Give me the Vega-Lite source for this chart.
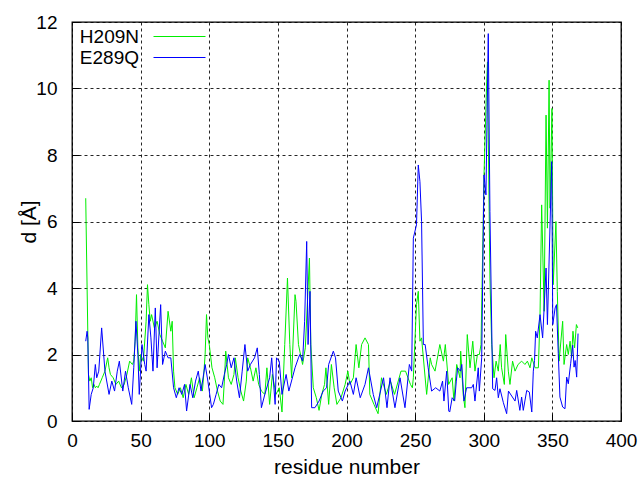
{
  "$schema": "https://vega.github.io/schema/vega-lite/v6.json",
  "width": 549,
  "height": 399,
  "autosize": "none",
  "padding": {"left": 72, "top": 22, "right": 19, "bottom": 57},
  "background": "white",
  "config": {
    "font": "Liberation Sans",
    "view": {"stroke": "black", "strokeWidth": 1.3},
    "axis": {
      "domain": false,
      "grid": true,
      "gridColor": "black",
      "gridDash": [3, 3],
      "gridOpacity": 0.85,
      "gridWidth": 1,
      "ticks": true,
      "tickSize": -7,
      "tickColor": "black",
      "labelFlush": false,
      "labelColor": "black",
      "labelFont": "Liberation Sans",
      "labelFontSize": 19,
      "titleColor": "black",
      "titleFont": "Liberation Sans",
      "titleFontSize": 21,
      "titleFontWeight": "normal"
    },
    "legend": {
      "orient": "none",
      "legendX": 72,
      "legendY": 5,
      "symbolType": "M0,0H8",
      "symbolSize": 169,
      "symbolStrokeWidth": 1,
      "labelFont": "Liberation Sans",
      "labelFontSize": 19,
      "labelColor": "black",
      "labelAlign": "right",
      "labelOffset": -24,
      "symbolOffset": 0,
      "rowPadding": 1,
      "title": null
    }
  },
  "data": {
    "values": [
      {"r": 10, "d": 6.7, "s": "H209N"}, {"r": 11, "d": 4.0, "s": "H209N"}, {"r": 12, "d": 1.4, "s": "H209N"}, {"r": 13, "d": 1.2, "s": "H209N"}, {"r": 14, "d": 1.3, "s": "H209N"}, {"r": 15, "d": 1.0, "s": "H209N"}, {"r": 16, "d": 1.1, "s": "H209N"}, {"r": 17, "d": 1.0, "s": "H209N"}, {"r": 18, "d": 1.05, "s": "H209N"}, {"r": 19, "d": 1.0, "s": "H209N"}, {"r": 20, "d": 1.1, "s": "H209N"}, {"r": 22, "d": 1.3, "s": "H209N"}, {"r": 24, "d": 1.5, "s": "H209N"}, {"r": 26, "d": 1.9, "s": "H209N"}, {"r": 27, "d": 1.6, "s": "H209N"}, {"r": 28, "d": 1.4, "s": "H209N"}, {"r": 30, "d": 1.3, "s": "H209N"}, {"r": 32, "d": 1.1, "s": "H209N"}, {"r": 34, "d": 1.2, "s": "H209N"}, {"r": 36, "d": 1.0, "s": "H209N"}, {"r": 38, "d": 1.1, "s": "H209N"}, {"r": 40, "d": 1.4, "s": "H209N"}, {"r": 42, "d": 1.8, "s": "H209N"}, {"r": 44, "d": 1.7, "s": "H209N"}, {"r": 45, "d": 1.8, "s": "H209N"}, {"r": 46, "d": 2.4, "s": "H209N"}, {"r": 47, "d": 3.8, "s": "H209N"}, {"r": 48, "d": 2.2, "s": "H209N"}, {"r": 49, "d": 1.5, "s": "H209N"}, {"r": 50, "d": 2.0, "s": "H209N"}, {"r": 52, "d": 1.8, "s": "H209N"}, {"r": 54, "d": 3.0, "s": "H209N"}, {"r": 55, "d": 4.1, "s": "H209N"}, {"r": 56, "d": 3.5, "s": "H209N"}, {"r": 57, "d": 3.0, "s": "H209N"}, {"r": 58, "d": 3.2, "s": "H209N"}, {"r": 60, "d": 2.8, "s": "H209N"}, {"r": 62, "d": 3.0, "s": "H209N"}, {"r": 64, "d": 2.6, "s": "H209N"}, {"r": 66, "d": 2.4, "s": "H209N"}, {"r": 68, "d": 2.2, "s": "H209N"}, {"r": 70, "d": 3.3, "s": "H209N"}, {"r": 72, "d": 2.7, "s": "H209N"}, {"r": 73, "d": 3.0, "s": "H209N"}, {"r": 74, "d": 1.5, "s": "H209N"}, {"r": 75, "d": 1.0, "s": "H209N"}, {"r": 77, "d": 0.8, "s": "H209N"}, {"r": 79, "d": 1.0, "s": "H209N"}, {"r": 81, "d": 0.7, "s": "H209N"}, {"r": 83, "d": 1.1, "s": "H209N"}, {"r": 85, "d": 0.8, "s": "H209N"}, {"r": 87, "d": 1.3, "s": "H209N"}, {"r": 89, "d": 0.7, "s": "H209N"}, {"r": 91, "d": 1.0, "s": "H209N"}, {"r": 93, "d": 1.3, "s": "H209N"}, {"r": 95, "d": 0.9, "s": "H209N"}, {"r": 96, "d": 1.4, "s": "H209N"}, {"r": 97, "d": 2.0, "s": "H209N"}, {"r": 98, "d": 3.2, "s": "H209N"}, {"r": 99, "d": 2.5, "s": "H209N"}, {"r": 100, "d": 2.3, "s": "H209N"}, {"r": 102, "d": 1.6, "s": "H209N"}, {"r": 104, "d": 1.3, "s": "H209N"}, {"r": 106, "d": 0.9, "s": "H209N"}, {"r": 108, "d": 0.6, "s": "H209N"}, {"r": 110, "d": 0.5, "s": "H209N"}, {"r": 111, "d": 1.2, "s": "H209N"}, {"r": 112, "d": 2.1, "s": "H209N"}, {"r": 114, "d": 1.3, "s": "H209N"}, {"r": 116, "d": 1.1, "s": "H209N"}, {"r": 118, "d": 1.4, "s": "H209N"}, {"r": 119, "d": 1.9, "s": "H209N"}, {"r": 121, "d": 1.3, "s": "H209N"}, {"r": 123, "d": 0.9, "s": "H209N"}, {"r": 125, "d": 0.6, "s": "H209N"}, {"r": 127, "d": 1.2, "s": "H209N"}, {"r": 128, "d": 1.9, "s": "H209N"}, {"r": 130, "d": 1.6, "s": "H209N"}, {"r": 132, "d": 1.2, "s": "H209N"}, {"r": 134, "d": 1.6, "s": "H209N"}, {"r": 136, "d": 1.1, "s": "H209N"}, {"r": 138, "d": 0.9, "s": "H209N"}, {"r": 140.5, "d": 0.8, "s": "H209N"}, {"r": 142, "d": 1.6, "s": "H209N"}, {"r": 144, "d": 0.5, "s": "H209N"}, {"r": 146, "d": 1.4, "s": "H209N"}, {"r": 148.6, "d": 0.8, "s": "H209N"}, {"r": 151, "d": 1.0, "s": "H209N"}, {"r": 153, "d": 0.27, "s": "H209N"}, {"r": 155, "d": 2.3, "s": "H209N"}, {"r": 157, "d": 4.3, "s": "H209N"}, {"r": 158.7, "d": 2.3, "s": "H209N"}, {"r": 160, "d": 1.3, "s": "H209N"}, {"r": 162.5, "d": 3.8, "s": "H209N"}, {"r": 163.2, "d": 3.6, "s": "H209N"}, {"r": 165, "d": 2.3, "s": "H209N"}, {"r": 168, "d": 1.7, "s": "H209N"}, {"r": 170, "d": 2.2, "s": "H209N"}, {"r": 173, "d": 4.9, "s": "H209N"}, {"r": 174, "d": 2.3, "s": "H209N"}, {"r": 175.8, "d": 1.0, "s": "H209N"}, {"r": 178, "d": 0.7, "s": "H209N"}, {"r": 180, "d": 0.32, "s": "H209N"}, {"r": 182, "d": 0.8, "s": "H209N"}, {"r": 184, "d": 1.1, "s": "H209N"}, {"r": 185, "d": 1.6, "s": "H209N"}, {"r": 187, "d": 0.5, "s": "H209N"}, {"r": 189, "d": 1.7, "s": "H209N"}, {"r": 191, "d": 1.0, "s": "H209N"}, {"r": 193, "d": 0.5, "s": "H209N"}, {"r": 196, "d": 0.7, "s": "H209N"}, {"r": 199, "d": 1.1, "s": "H209N"}, {"r": 201, "d": 1.5, "s": "H209N"}, {"r": 202.5, "d": 1.1, "s": "H209N"}, {"r": 205, "d": 1.3, "s": "H209N"}, {"r": 207, "d": 2.3, "s": "H209N"}, {"r": 209, "d": 1.6, "s": "H209N"}, {"r": 211, "d": 2.3, "s": "H209N"}, {"r": 213.5, "d": 2.5, "s": "H209N"}, {"r": 216, "d": 2.3, "s": "H209N"}, {"r": 217, "d": 0.8, "s": "H209N"}, {"r": 220, "d": 0.5, "s": "H209N"}, {"r": 223, "d": 0.22, "s": "H209N"}, {"r": 225.5, "d": 1.3, "s": "H209N"}, {"r": 229, "d": 0.8, "s": "H209N"}, {"r": 232, "d": 1.2, "s": "H209N"}, {"r": 235, "d": 0.8, "s": "H209N"}, {"r": 239.7, "d": 1.5, "s": "H209N"}, {"r": 243, "d": 1.5, "s": "H209N"}, {"r": 246.6, "d": 1.1, "s": "H209N"}, {"r": 248, "d": 1.0, "s": "H209N"}, {"r": 248.7, "d": 1.3, "s": "H209N"}, {"r": 251, "d": 3.5, "s": "H209N"}, {"r": 252.3, "d": 3.9, "s": "H209N"}, {"r": 253.5, "d": 2.4, "s": "H209N"}, {"r": 254.7, "d": 2.5, "s": "H209N"}, {"r": 258.4, "d": 0.8, "s": "H209N"}, {"r": 261, "d": 1.9, "s": "H209N"}, {"r": 262, "d": 1.7, "s": "H209N"}, {"r": 264.5, "d": 1.5, "s": "H209N"}, {"r": 268, "d": 2.3, "s": "H209N"}, {"r": 270.6, "d": 1.8, "s": "H209N"}, {"r": 272, "d": 2.3, "s": "H209N"}, {"r": 274.4, "d": 1.1, "s": "H209N"}, {"r": 277, "d": 1.3, "s": "H209N"}, {"r": 278.3, "d": 0.6, "s": "H209N"}, {"r": 280.3, "d": 1.7, "s": "H209N"}, {"r": 282.7, "d": 1.3, "s": "H209N"}, {"r": 283.2, "d": 2.1, "s": "H209N"}, {"r": 285, "d": 0.8, "s": "H209N"}, {"r": 286.3, "d": 0.4, "s": "H209N"}, {"r": 288, "d": 2.6, "s": "H209N"}, {"r": 290, "d": 1.6, "s": "H209N"}, {"r": 292, "d": 2.4, "s": "H209N"}, {"r": 293.6, "d": 1.5, "s": "H209N"}, {"r": 295.4, "d": 2.0, "s": "H209N"}, {"r": 296.8, "d": 2.0, "s": "H209N"}, {"r": 298, "d": 2.3, "s": "H209N"}, {"r": 300.2, "d": 7.4, "s": "H209N"}, {"r": 302, "d": 10.0, "s": "H209N"}, {"r": 302.7, "d": 10.8, "s": "H209N"}, {"r": 304.5, "d": 4.3, "s": "H209N"}, {"r": 305.8, "d": 2.3, "s": "H209N"}, {"r": 307.5, "d": 1.3, "s": "H209N"}, {"r": 309, "d": 1.8, "s": "H209N"}, {"r": 310.6, "d": 1.5, "s": "H209N"}, {"r": 312, "d": 2.3, "s": "H209N"}, {"r": 313, "d": 1.6, "s": "H209N"}, {"r": 315, "d": 1.1, "s": "H209N"}, {"r": 316, "d": 2.6, "s": "H209N"}, {"r": 317.9, "d": 1.5, "s": "H209N"}, {"r": 319.1, "d": 1.1, "s": "H209N"}, {"r": 321, "d": 1.8, "s": "H209N"}, {"r": 322.8, "d": 1.5, "s": "H209N"}, {"r": 325, "d": 1.7, "s": "H209N"}, {"r": 327.6, "d": 1.8, "s": "H209N"}, {"r": 330, "d": 1.7, "s": "H209N"}, {"r": 331.8, "d": 1.8, "s": "H209N"}, {"r": 333.7, "d": 1.6, "s": "H209N"}, {"r": 335, "d": 1.9, "s": "H209N"}, {"r": 337.4, "d": 1.6, "s": "H209N"}, {"r": 339.8, "d": 1.6, "s": "H209N"}, {"r": 341, "d": 3.2, "s": "H209N"}, {"r": 342.2, "d": 6.5, "s": "H209N"}, {"r": 344, "d": 3.3, "s": "H209N"}, {"r": 345.4, "d": 9.2, "s": "H209N"}, {"r": 346.4, "d": 5.8, "s": "H209N"}, {"r": 347.6, "d": 10.25, "s": "H209N"}, {"r": 348.3, "d": 6.4, "s": "H209N"}, {"r": 349.7, "d": 9.4, "s": "H209N"}, {"r": 350.6, "d": 4.1, "s": "H209N"}, {"r": 352.6, "d": 6.0, "s": "H209N"}, {"r": 353.6, "d": 3.9, "s": "H209N"}, {"r": 354.9, "d": 1.8, "s": "H209N"}, {"r": 357.5, "d": 3.0, "s": "H209N"}, {"r": 358.5, "d": 1.7, "s": "H209N"}, {"r": 360.4, "d": 2.3, "s": "H209N"}, {"r": 361.6, "d": 2.0, "s": "H209N"}, {"r": 362.9, "d": 2.4, "s": "H209N"}, {"r": 364, "d": 1.9, "s": "H209N"}, {"r": 365, "d": 2.7, "s": "H209N"}, {"r": 366.2, "d": 2.2, "s": "H209N"}, {"r": 367.5, "d": 2.9, "s": "H209N"}, {"r": 368.5, "d": 2.8, "s": "H209N"},
      {"r": 10, "d": 2.4, "s": "E289Q"}, {"r": 11, "d": 2.7, "s": "E289Q"}, {"r": 11.5, "d": 2.5, "s": "E289Q"}, {"r": 12.5, "d": 0.35, "s": "E289Q"}, {"r": 14, "d": 0.8, "s": "E289Q"}, {"r": 15.5, "d": 1.0, "s": "E289Q"}, {"r": 17, "d": 1.7, "s": "E289Q"}, {"r": 18, "d": 1.3, "s": "E289Q"}, {"r": 19.5, "d": 1.5, "s": "E289Q"}, {"r": 21.6, "d": 2.8, "s": "E289Q"}, {"r": 24, "d": 1.5, "s": "E289Q"}, {"r": 27, "d": 0.8, "s": "E289Q"}, {"r": 29, "d": 1.2, "s": "E289Q"}, {"r": 31, "d": 0.9, "s": "E289Q"}, {"r": 33, "d": 1.5, "s": "E289Q"}, {"r": 34.5, "d": 1.8, "s": "E289Q"}, {"r": 37, "d": 0.9, "s": "E289Q"}, {"r": 39, "d": 1.5, "s": "E289Q"}, {"r": 41, "d": 1.0, "s": "E289Q"}, {"r": 43.5, "d": 0.5, "s": "E289Q"}, {"r": 45, "d": 1.6, "s": "E289Q"}, {"r": 46.6, "d": 3.0, "s": "E289Q"}, {"r": 48, "d": 2.0, "s": "E289Q"}, {"r": 49, "d": 0.8, "s": "E289Q"}, {"r": 51, "d": 2.3, "s": "E289Q"}, {"r": 53, "d": 1.7, "s": "E289Q"}, {"r": 54, "d": 1.5, "s": "E289Q"}, {"r": 56, "d": 3.2, "s": "E289Q"}, {"r": 57.5, "d": 2.5, "s": "E289Q"}, {"r": 59, "d": 1.5, "s": "E289Q"}, {"r": 60.7, "d": 3.4, "s": "E289Q"}, {"r": 62, "d": 1.6, "s": "E289Q"}, {"r": 64.6, "d": 3.5, "s": "E289Q"}, {"r": 66, "d": 1.7, "s": "E289Q"}, {"r": 68, "d": 2.1, "s": "E289Q"}, {"r": 70, "d": 1.9, "s": "E289Q"}, {"r": 72, "d": 1.9, "s": "E289Q"}, {"r": 74, "d": 1.0, "s": "E289Q"}, {"r": 76, "d": 0.7, "s": "E289Q"}, {"r": 78, "d": 1.0, "s": "E289Q"}, {"r": 80, "d": 0.8, "s": "E289Q"}, {"r": 82, "d": 1.1, "s": "E289Q"}, {"r": 83.5, "d": 0.3, "s": "E289Q"}, {"r": 86, "d": 1.1, "s": "E289Q"}, {"r": 88, "d": 0.7, "s": "E289Q"}, {"r": 90, "d": 1.2, "s": "E289Q"}, {"r": 92, "d": 1.5, "s": "E289Q"}, {"r": 94, "d": 0.9, "s": "E289Q"}, {"r": 97, "d": 1.7, "s": "E289Q"}, {"r": 99, "d": 1.2, "s": "E289Q"}, {"r": 101.7, "d": 0.4, "s": "E289Q"}, {"r": 103, "d": 0.5, "s": "E289Q"}, {"r": 105, "d": 0.8, "s": "E289Q"}, {"r": 107, "d": 1.1, "s": "E289Q"}, {"r": 109, "d": 1.0, "s": "E289Q"}, {"r": 111, "d": 1.4, "s": "E289Q"}, {"r": 112.7, "d": 1.7, "s": "E289Q"}, {"r": 114, "d": 2.0, "s": "E289Q"}, {"r": 116, "d": 1.6, "s": "E289Q"}, {"r": 118, "d": 1.9, "s": "E289Q"}, {"r": 120, "d": 1.2, "s": "E289Q"}, {"r": 122, "d": 0.7, "s": "E289Q"}, {"r": 124, "d": 1.5, "s": "E289Q"}, {"r": 126, "d": 2.3, "s": "E289Q"}, {"r": 128, "d": 1.5, "s": "E289Q"}, {"r": 130, "d": 1.7, "s": "E289Q"}, {"r": 133, "d": 1.9, "s": "E289Q"}, {"r": 135, "d": 2.2, "s": "E289Q"}, {"r": 136.5, "d": 1.4, "s": "E289Q"}, {"r": 138, "d": 0.4, "s": "E289Q"}, {"r": 140.5, "d": 0.8, "s": "E289Q"}, {"r": 144, "d": 1.3, "s": "E289Q"}, {"r": 145.5, "d": 1.9, "s": "E289Q"}, {"r": 148, "d": 0.5, "s": "E289Q"}, {"r": 149, "d": 1.9, "s": "E289Q"}, {"r": 151, "d": 1.8, "s": "E289Q"}, {"r": 153, "d": 0.8, "s": "E289Q"}, {"r": 156, "d": 1.4, "s": "E289Q"}, {"r": 158, "d": 0.9, "s": "E289Q"}, {"r": 162.5, "d": 1.6, "s": "E289Q"}, {"r": 165, "d": 1.9, "s": "E289Q"}, {"r": 166, "d": 2.0, "s": "E289Q"}, {"r": 168, "d": 1.8, "s": "E289Q"}, {"r": 169.5, "d": 3.0, "s": "E289Q"}, {"r": 171, "d": 5.4, "s": "E289Q"}, {"r": 172, "d": 2.3, "s": "E289Q"}, {"r": 173.4, "d": 3.9, "s": "E289Q"}, {"r": 174.6, "d": 0.4, "s": "E289Q"}, {"r": 177, "d": 0.4, "s": "E289Q"}, {"r": 180, "d": 0.6, "s": "E289Q"}, {"r": 183, "d": 0.9, "s": "E289Q"}, {"r": 185.5, "d": 1.0, "s": "E289Q"}, {"r": 187, "d": 1.7, "s": "E289Q"}, {"r": 190.4, "d": 2.1, "s": "E289Q"}, {"r": 192, "d": 1.9, "s": "E289Q"}, {"r": 194, "d": 0.9, "s": "E289Q"}, {"r": 197, "d": 0.6, "s": "E289Q"}, {"r": 199, "d": 0.9, "s": "E289Q"}, {"r": 202.5, "d": 1.2, "s": "E289Q"}, {"r": 205, "d": 0.8, "s": "E289Q"}, {"r": 207, "d": 1.3, "s": "E289Q"}, {"r": 210, "d": 0.7, "s": "E289Q"}, {"r": 213.5, "d": 1.1, "s": "E289Q"}, {"r": 216, "d": 1.6, "s": "E289Q"}, {"r": 219.5, "d": 0.8, "s": "E289Q"}, {"r": 222, "d": 0.4, "s": "E289Q"}, {"r": 227, "d": 1.3, "s": "E289Q"}, {"r": 229.5, "d": 0.4, "s": "E289Q"}, {"r": 231.7, "d": 1.3, "s": "E289Q"}, {"r": 235.3, "d": 0.4, "s": "E289Q"}, {"r": 239, "d": 1.3, "s": "E289Q"}, {"r": 242.6, "d": 0.4, "s": "E289Q"}, {"r": 245.8, "d": 1.7, "s": "E289Q"}, {"r": 247.5, "d": 1.5, "s": "E289Q"}, {"r": 248.7, "d": 5.5, "s": "E289Q"}, {"r": 251, "d": 5.9, "s": "E289Q"}, {"r": 252.3, "d": 7.7, "s": "E289Q"}, {"r": 253.5, "d": 7.2, "s": "E289Q"}, {"r": 254.7, "d": 6.0, "s": "E289Q"}, {"r": 256, "d": 2.3, "s": "E289Q"}, {"r": 257.3, "d": 2.3, "s": "E289Q"}, {"r": 259.5, "d": 1.6, "s": "E289Q"}, {"r": 262, "d": 0.9, "s": "E289Q"}, {"r": 265, "d": 1.0, "s": "E289Q"}, {"r": 268, "d": 0.9, "s": "E289Q"}, {"r": 270, "d": 1.2, "s": "E289Q"}, {"r": 271, "d": 0.6, "s": "E289Q"}, {"r": 273, "d": 1.5, "s": "E289Q"}, {"r": 274.5, "d": 0.3, "s": "E289Q"}, {"r": 275.2, "d": 0.27, "s": "E289Q"}, {"r": 277, "d": 0.7, "s": "E289Q"}, {"r": 278.8, "d": 0.6, "s": "E289Q"}, {"r": 280, "d": 1.2, "s": "E289Q"}, {"r": 281, "d": 1.6, "s": "E289Q"}, {"r": 283, "d": 1.5, "s": "E289Q"}, {"r": 284, "d": 1.7, "s": "E289Q"}, {"r": 285.6, "d": 0.6, "s": "E289Q"}, {"r": 287.5, "d": 1.0, "s": "E289Q"}, {"r": 291.2, "d": 1.0, "s": "E289Q"}, {"r": 292.4, "d": 1.1, "s": "E289Q"}, {"r": 293.6, "d": 0.6, "s": "E289Q"}, {"r": 296, "d": 1.6, "s": "E289Q"}, {"r": 296.8, "d": 0.9, "s": "E289Q"}, {"r": 298.5, "d": 1.9, "s": "E289Q"}, {"r": 300.2, "d": 7.4, "s": "E289Q"}, {"r": 301.6, "d": 6.8, "s": "E289Q"}, {"r": 303.3, "d": 11.65, "s": "E289Q"}, {"r": 304.5, "d": 6.3, "s": "E289Q"}, {"r": 306.5, "d": 0.97, "s": "E289Q"}, {"r": 308.2, "d": 0.92, "s": "E289Q"}, {"r": 309.4, "d": 1.3, "s": "E289Q"}, {"r": 310.6, "d": 0.7, "s": "E289Q"}, {"r": 311.8, "d": 0.97, "s": "E289Q"}, {"r": 314.3, "d": 0.55, "s": "E289Q"}, {"r": 316.7, "d": 0.22, "s": "E289Q"}, {"r": 318, "d": 0.9, "s": "E289Q"}, {"r": 322.8, "d": 0.6, "s": "E289Q"}, {"r": 324, "d": 0.92, "s": "E289Q"}, {"r": 326.3, "d": 0.32, "s": "E289Q"}, {"r": 327.6, "d": 0.72, "s": "E289Q"}, {"r": 328.8, "d": 0.32, "s": "E289Q"}, {"r": 331.3, "d": 0.92, "s": "E289Q"}, {"r": 333.2, "d": 0.87, "s": "E289Q"}, {"r": 335, "d": 0.27, "s": "E289Q"}, {"r": 336.1, "d": 1.5, "s": "E289Q"}, {"r": 337, "d": 1.82, "s": "E289Q"}, {"r": 337.8, "d": 2.7, "s": "E289Q"}, {"r": 339, "d": 2.5, "s": "E289Q"}, {"r": 341, "d": 3.2, "s": "E289Q"}, {"r": 342.9, "d": 2.5, "s": "E289Q"}, {"r": 344, "d": 3.4, "s": "E289Q"}, {"r": 345.4, "d": 4.6, "s": "E289Q"}, {"r": 346.4, "d": 2.9, "s": "E289Q"}, {"r": 349.5, "d": 7.8, "s": "E289Q"}, {"r": 350.3, "d": 2.9, "s": "E289Q"}, {"r": 352, "d": 3.4, "s": "E289Q"}, {"r": 353, "d": 3.5, "s": "E289Q"}, {"r": 354.3, "d": 2.03, "s": "E289Q"}, {"r": 355.5, "d": 0.72, "s": "E289Q"}, {"r": 357.5, "d": 0.42, "s": "E289Q"}, {"r": 359.2, "d": 0.37, "s": "E289Q"}, {"r": 360.4, "d": 1.32, "s": "E289Q"}, {"r": 361.6, "d": 1.12, "s": "E289Q"}, {"r": 363.3, "d": 1.72, "s": "E289Q"}, {"r": 364.8, "d": 2.28, "s": "E289Q"}, {"r": 365.8, "d": 1.62, "s": "E289Q"}, {"r": 366.6, "d": 1.82, "s": "E289Q"}, {"r": 367.7, "d": 1.32, "s": "E289Q"}, {"r": 368.7, "d": 2.63, "s": "E289Q"}
    ]
  },
  "encoding": {
    "x": {
      "field": "r", "type": "quantitative",
      "scale": {"domain": [0, 400], "nice": false, "zero": false},
      "axis": {"title": "residue number", "values": [0, 50, 100, 150, 200, 250, 300, 350, 400], "labelPadding": 17, "titlePadding": 6}
    },
    "y": {
      "field": "d", "type": "quantitative",
      "scale": {"domain": [0, 12], "nice": false},
      "axis": {"title": "d [Å]", "values": [0, 2, 4, 6, 8, 10, 12], "labelPadding": 22, "titleX": -33}
    },
    "color": {
      "field": "s", "type": "nominal",
      "scale": {"domain": ["H209N", "E289Q"], "range": ["#00ee00", "#0000ff"]},
      "legend": {"title": null}
    }
  },
  "layer": [
    {"transform": [{"filter": "datum.s === 'H209N'"}], "mark": {"type": "line", "strokeWidth": 1, "clip": true}},
    {"transform": [{"filter": "datum.s === 'E289Q'"}], "mark": {"type": "line", "strokeWidth": 1, "clip": true}}
  ]
}
